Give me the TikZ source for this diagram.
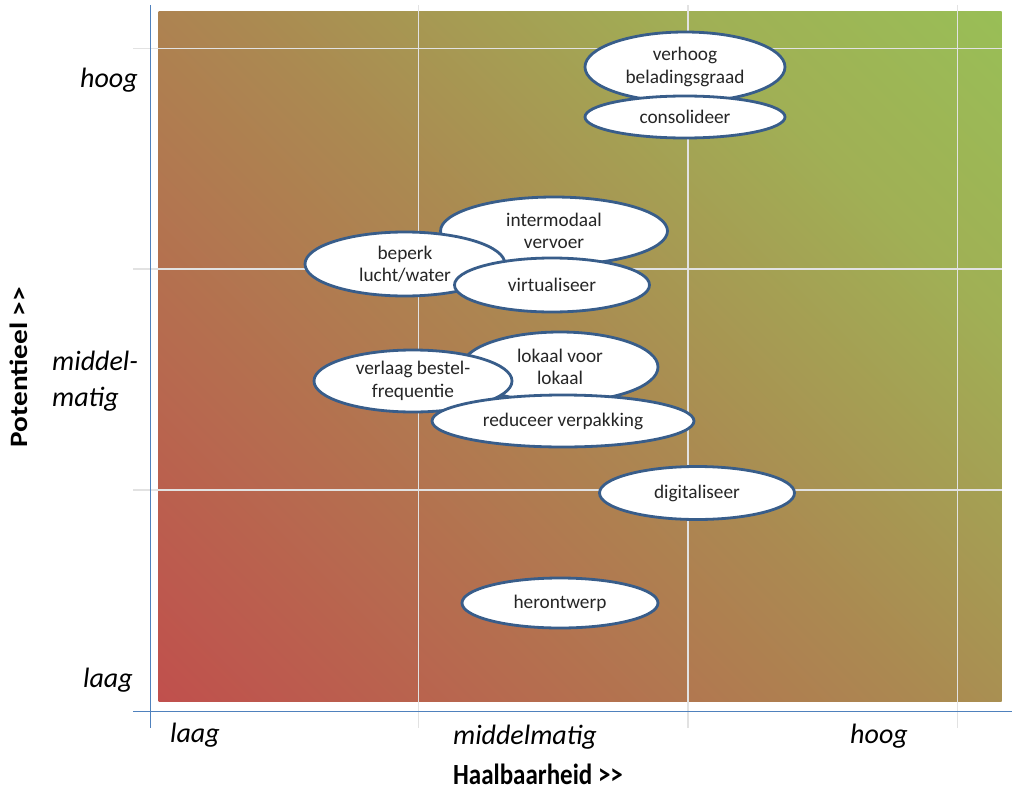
\documentclass[tikz,border=0pt]{standalone}
\usepackage{fontspec}
\setmainfont{Carlito}
\usetikzlibrary{shapes.geometric}
\definecolor{cred}{RGB}{192,80,77}
\definecolor{cgreen}{RGB}{153,190,86}
\definecolor{cmid}{RGB}{171,137,81}
\definecolor{cgmid}{RGB}{160,176,85}
\definecolor{eborder}{RGB}{56,93,138}
\definecolor{axblue}{RGB}{79,129,189}
\definecolor{gridc}{RGB}{226,226,226}
\pgfdeclarehorizontalshading{bggrad}{100bp}{color(0bp)=(cred); color(14.64bp)=(cred);
  color(50bp)=(cmid); color(71.2bp)=(cgmid); color(85.36bp)=(cgreen); color(100bp)=(cgreen)}
\begin{document}
\begin{tikzpicture}[x=1pt,y=-1pt,
  ell/.style={ellipse, draw=eborder, line width=2.8pt, fill=white, inner sep=0pt, align=center,
    font=\fontsize{19.3}{22.5}\selectfont, text=black!85},
  axlab/.style={font=\fontsize{28}{36}\selectfont\itshape, text=black, inner sep=0pt},
  axtitle/.style={font=\fontsize{25}{30}\selectfont\bfseries, text=black, inner sep=0pt},
  gridline/.style={draw=gridc, line width=1.3pt},
  axline/.style={draw=axblue, line width=1.2pt}]
\useasboundingbox (0,0) rectangle (1012,792);
\shade[shading=bggrad, shading angle=45] (158.5,12) rectangle (1001.5,701);
\foreach \x in {418.5,688,957.5} \draw[gridline] (\x,5) -- (\x,728);
\foreach \y in {48.5,269,490} \draw[gridline] (133,\y) -- (1002,\y);
\draw[axline] (150.5,5) -- (150.5,728);
\draw[axline] (133,711.5) -- (1012,711.5);

\node[ell, minimum width=200pt, minimum height=70pt] (verhoog) at (685,67) {verhoog\\beladingsgraad};
\node[ell, minimum width=200pt, minimum height=42pt] (consolideer) at (685,117) {consolideer};
\node[ell, minimum width=227pt, minimum height=68pt] (intermodaal) at (554,231) {intermodaal\\vervoer};
\node[ell, minimum width=200pt, minimum height=64pt] (beperk) at (405,264) {beperk\\lucht/water};
\node[ell, minimum width=195pt, minimum height=54pt] (virtualiseer) at (552,285) {virtualiseer};
\node[ell, minimum width=196pt, minimum height=70pt] (lokaal) at (560,367) {lokaal voor\\lokaal};
\node[ell, minimum width=198pt, minimum height=62pt] (verlaag) at (413,381) {verlaag bestel-\\frequentie};
\node[ell, minimum width=262pt, minimum height=52pt] (reduceer) at (563,421) {reduceer verpakking};
\node[ell, minimum width=195pt, minimum height=53pt] (digitaliseer) at (697,493) {digitaliseer};
\node[ell, minimum width=196pt, minimum height=50pt] (herontwerp) at (560,603) {herontwerp};

\node[axlab] (yhoog) at (109,80) {hoog};
\node[axlab, align=left, anchor=west] (ymid) at (52,381) {middel-\\matig};
\node[axlab] (ylaag) at (108,680) {laag};
\node[axlab] (xlaag) at (195,735) {laag};
\node[axlab] (xmid) at (525,737) {middelmatig};
\node[axlab] (xhoog) at (879,736) {hoog};
\node[axtitle, anchor=base] (xtitle) at (538,784.5) {\scalebox{1}[1.17]{Haalbaarheid >{}>}};
\node[axtitle, rotate=90] (ytitle) at (19,367) {\scalebox{1.17}[1]{Potentieel >{}>}};
\end{tikzpicture}
\end{document}
